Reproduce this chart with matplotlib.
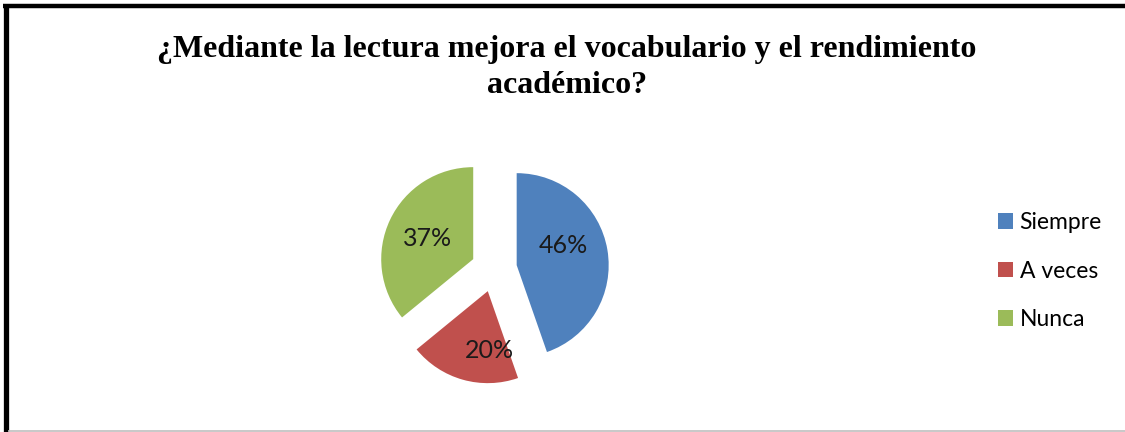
import numpy as np
import matplotlib
matplotlib.use("Agg")
import matplotlib.pyplot as plt
from matplotlib.lines import Line2D
from matplotlib.patches import Patch

categories = ["Siempre", "A veces", "Nunca"]
values = [46, 20, 37]
pct_labels = ["46%", "20%", "37%"]
colors = ["#4F81BD", "#C0504D", "#9BBB59"]
title = "¿Mediante la lectura mejora el vocabulario y el rendimiento\nacadémico?"

W, H = 1125, 432
fig = plt.figure(figsize=(W / 100, H / 100), dpi=100)
fig.patch.set_facecolor("white")

# pie axes: centre at (494, 269) px, radius ~92 px
cx, cy, r = 494, 269, 92
half = 150
explode = 0.25
ax = fig.add_axes([(cx - half) / W, (H - cy - half) / H, 2 * half / W, 2 * half / H])
wedges, texts = ax.pie(
    values, colors=colors, startangle=90, counterclock=False,
    explode=[explode] * len(values), wedgeprops=dict(linewidth=0))
lim = half / r
ax.set_xlim(-lim, lim)
ax.set_ylim(-lim, lim)
ax.set_aspect("equal")
ax.axis("off")

# data labels placed inside each (exploded) wedge, Excel style
label_dist = [0.55, 0.64, 0.55]
label_rot = [13, 17, 1]
for w, lab, d, rot in zip(wedges, pct_labels, label_dist, label_rot):
    mid = np.deg2rad((w.theta1 + w.theta2) / 2)
    ox, oy = w.center
    a = mid + np.deg2rad(rot)
    ax.text(ox + d * np.cos(a), oy + d * np.sin(a), lab, ha="center", va="center",
            fontsize=18, family="Lato", color="#1a1a1a")

fig.text(567 / W, 1 - 35 / H, title, ha="center", va="top",
         multialignment="center", fontsize=23, fontweight="bold",
         family="Liberation Serif", linespacing=1.3, color="black")

handles = [Patch(facecolor=c, edgecolor="none") for c in colors]
fig.legend(handles, categories, loc="center left",
           bbox_to_anchor=(977 / W, 1 - 271 / H), frameon=False,
           prop=dict(family="Lato", size=16.5), handlelength=0.66,
           handleheight=0.66, handletextpad=0.3, labelspacing=1.2)

# outer frame
fig.add_artist(Line2D([5.5 / W, 5.5 / W], [0, 1 - 4 / H], transform=fig.transFigure,
                      color="black", lw=3.8, solid_capstyle="butt"))
fig.add_artist(Line2D([3 / W, 1], [1 - 6 / H, 1 - 6 / H], transform=fig.transFigure,
                      color="black", lw=3.2, solid_capstyle="butt"))
fig.add_artist(Line2D([8 / W, 1], [1.5 / H, 1.5 / H], transform=fig.transFigure,
                      color="#bfbfbf", lw=1.2, solid_capstyle="butt"))

fig.savefig("out.png", dpi=100, facecolor="white")
